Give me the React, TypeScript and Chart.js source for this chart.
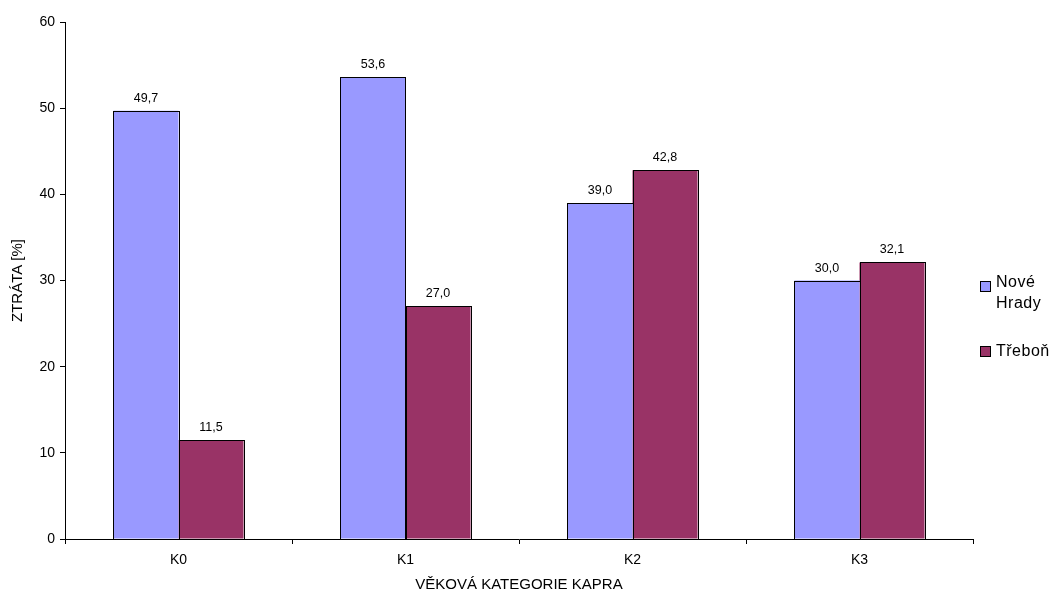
import React, { useEffect, useRef } from "react";
import { Chart, registerables } from "chart.js";
Chart.register(...registerables);

const categories = ["K0", "K1", "K2", "K3"];
const seriesNames = ["Nové Hrady", "Třeboň"];
const noveHrady = [49.7, 53.6, 39.0, 30.0];
const trebon = [11.5, 27.0, 42.8, 32.1];
const yMin = 0;
const yMax = 60;
const yStep = 10;
const xTitle = "VĚKOVÁ KATEGORIE KAPRA";
const yTitle = "ZTRÁTA [%]";

const colors = ["#9999FF", "#993366"];
const FONT = "'Liberation Sans', Arial, sans-serif";

const labelPlugin = {
  id: "valueLabels",
  afterDatasetsDraw(chart: any) {
    const ctx = chart.ctx;
    ctx.save();
    ctx.strokeStyle = "#000";
    ctx.lineWidth = 1;
    chart.data.datasets.forEach((_ds: any, i: number) => {
      const meta = chart.getDatasetMeta(i);
      meta.data.forEach((el: any) => {
        const { x, y, base, width } = el.getProps(["x", "y", "base", "width"], true);
        const l = Math.round(x - width / 2) + 0.5;
        const r = Math.round(x + width / 2) + 0.5;
        const t = Math.round(y) + 0.5;
        const b = Math.round(base) + 0.5;
        ctx.strokeRect(l, t, r - l, b - t);
      });
    });
    ctx.font = `12.5px ${FONT}`;
    ctx.fillStyle = "#000";
    ctx.textAlign = "center";
    ctx.textBaseline = "alphabetic";
    chart.data.datasets.forEach((ds: any, i: number) => {
      const meta = chart.getDatasetMeta(i);
      meta.data.forEach((el: any, j: number) => {
        const v = ds.data[j] as number;
        ctx.fillText(v.toFixed(1).replace(".", ","), el.x, el.y - 9);
      });
    });
    ctx.restore();
  },
};

export default function App() {
  const ref = useRef<HTMLCanvasElement>(null);
  useEffect(() => {
    if (!ref.current) return;
    const chart = new Chart(ref.current, {
      type: "bar",
      data: {
        labels: categories,
        datasets: [
          { label: seriesNames[0], data: noveHrady, backgroundColor: colors[0], borderWidth: 0 },
          { label: seriesNames[1], data: trebon, backgroundColor: colors[1], borderWidth: 0 },
        ],
      },
      options: {
        animation: false,
        responsive: false,
        maintainAspectRatio: false,
        layout: { padding: { top: 22, right: 83, left: 0, bottom: 0 } },
        datasets: { bar: { categoryPercentage: 0.573, barPercentage: 1 } },
        plugins: { legend: { display: false }, tooltip: { enabled: false } },
        scales: {
          x: {
            grid: { drawOnChartArea: false, tickLength: 5, color: "#000", offset: true },
            border: { color: "#000" },
            ticks: { color: "#000", font: { size: 14, family: FONT }, padding: 8 },
            title: { display: true, text: xTitle, color: "#000", font: { size: 15, family: FONT }, padding: { top: 0, bottom: 0 } },
            afterFit: (s: any) => { s.height = 55; },
          },
          y: {
            min: yMin,
            max: yMax,
            grid: { drawOnChartArea: false, tickLength: 5, color: "#000" },
            border: { color: "#000" },
            ticks: { stepSize: yStep, color: "#000", font: { size: 14, family: FONT }, padding: 5 },
            title: { display: true, text: yTitle, color: "#000", font: { size: 15, family: FONT }, padding: { top: 9, bottom: 0 } },
            afterFit: (s: any) => { s.width = 65; },
          },
        },
      },
      plugins: [labelPlugin],
    });
    return () => chart.destroy();
  }, []);

  const legendText: React.CSSProperties = {
    position: "absolute",
    left: 996,
    font: `16px ${FONT}`,
    lineHeight: "21px",
    color: "#000",
    letterSpacing: "0.5px",
  };
  const sq = (bg: string, top: number): React.CSSProperties => ({
    position: "absolute",
    left: 980,
    top,
    width: 9,
    height: 9,
    background: bg,
    border: "1px solid #000",
  });

  return (
    <div style={{ position: "fixed", left: 0, top: 0, width: 1056, height: 594, background: "#fff" }}>
      <canvas ref={ref} width={1056} height={594} style={{ display: "block" }} />
      <div style={sq(colors[0], 281)} />
      <div style={{ ...legendText, top: 271 }}>Nové<br />Hrady</div>
      <div style={sq(colors[1], 346)} />
      <div style={{ ...legendText, top: 340 }}>Třeboň</div>
    </div>
  );
}
